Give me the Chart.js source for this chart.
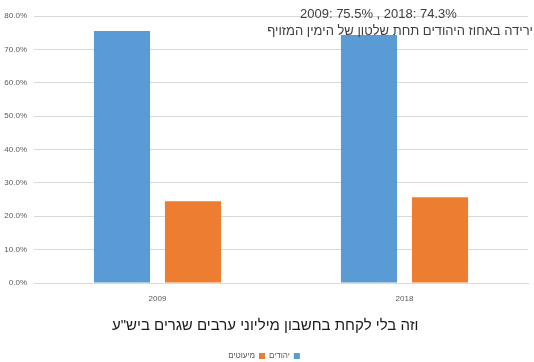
<!DOCTYPE html>
<html>
<head>
<meta charset="utf-8">
<script src="https://cdn.jsdelivr.net/npm/chart.js@4/dist/chart.umd.min.js"></script>
<style>
  html, body { margin: 0; padding: 0; background: #fff; }
  #wrap { position: relative; width: 534px; height: 362px; }
  canvas { position: absolute; left: 0; top: 0; }
  .t { position: absolute; white-space: nowrap; font-family: "Liberation Sans", Arial, sans-serif; }
</style>
</head>
<body>
<div id="wrap">
  <canvas id="c" width="534" height="362"></canvas>
  <div class="t" id="t1" style="left:300px; top:6px; font-size:13px; color:#404040;">2009: 75.5% , 2018: 74.3%</div>
  <div class="t" id="t2" dir="rtl" style="right:1px; top:23px; font-size:13px; color:#404040;">ירידה באחוז היהודים תחת שלטון של הימין המזויף</div>
  <div class="t" id="t3" dir="rtl" style="left:112px; top:316px; font-size:15px; color:#1a1a1a;">וזה בלי לקחת בחשבון מיליוני ערבים שגרים ביש"ע</div>
</div>
<script>
const categories = ["2009", "2018"];
const jewsLabel = "יהודים";
const minoritiesLabel = "מיעוטים";
const jews = [75.5, 74.3];
const minorities = [24.5, 25.7];
const yTicksMax = 80;
const yTickStep = 10;
const tickFont = { family: '"Liberation Sans", Arial, sans-serif', size: 8 };

new Chart(document.getElementById('c'), {
  type: 'bar',
  data: {
    labels: categories,
    datasets: [
      { label: jewsLabel, data: jews, backgroundColor: '#5b9bd5', borderWidth: 0 },
      { label: minoritiesLabel, data: minorities, backgroundColor: '#ed7d31', borderWidth: 0 }
    ]
  },
  options: {
    responsive: false,
    animation: false,
    devicePixelRatio: 1,
    categoryPercentage: 0.575,
    barPercentage: 0.79,
    layout: { padding: { top: 16, right: 6, left: 0, bottom: -8 } },
    plugins: {
      legend: {
        position: 'bottom',
        rtl: true,
        labels: {
          boxWidth: 6, boxHeight: 6, padding: 4,
          color: '#595959',
          font: tickFont
        }
      },
      tooltip: { enabled: false }
    },
    scales: {
      x: {
        grid: { display: false },
        border: { color: '#d9d9d9' },
        ticks: { color: '#595959', font: tickFont, padding: 3 },
        afterFit: s => { s.height = 65; }
      },
      y: {
        min: 0, max: yTicksMax,
        grid: { color: '#d9d9d9', drawTicks: false },
        border: { display: false },
        ticks: {
          stepSize: yTickStep,
          color: '#595959',
          padding: 7,
          font: tickFont,
          callback: v => v.toFixed(1) + '%'
        },
        afterFit: s => { s.width = 34; }
      }
    }
  }
});
</script>
</body>
</html>
